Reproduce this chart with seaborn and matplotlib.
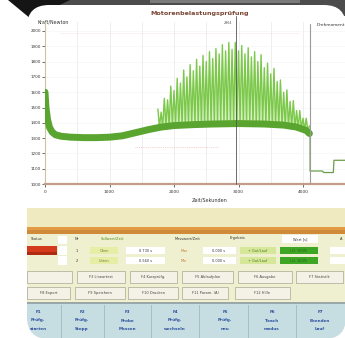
import numpy as np
import pandas as pd
import matplotlib
matplotlib.use("Agg")
import matplotlib.pyplot as plt
from matplotlib.patches import Rectangle, FancyBboxPatch, Polygon
import seaborn as sns

# ---------------- data ----------------
title = "Motorenbelastungsprüfung"
y_label = "Kraft/Newton"
x_label = "Zeit/Sekunden"
right_label = "Drehmoment"

x_ticks = [0, 1000, 2000, 3000, 4000]
y_ticks = [1000, 1100, 1200, 1300, 1400, 1500, 1600, 1700, 1800, 1900, 2000]

# smooth body of the force signal
body_t = [0, 15, 40, 70, 110, 160, 250, 400, 600, 800, 1000, 1200, 1400, 1600,
          1800, 2000, 2300, 2600, 3000, 3400, 3700, 3900, 4050, 4100]
body_v = [1600, 1500, 1420, 1370, 1340, 1322, 1312, 1306, 1303, 1303, 1306, 1315,
          1335, 1355, 1372, 1382, 1388, 1392, 1395, 1392, 1385, 1372, 1350, 1330]

# oscillating part (peak / trough samples)
zz_t = [1750, 1775, 1800, 1825, 1850, 1875, 1900, 1925, 1950, 1975,
        2000, 2025, 2050, 2075, 2100, 2125, 2150, 2175, 2200, 2225,
        2250, 2275, 2300, 2325, 2350, 2375, 2400, 2425, 2450, 2475,
        2500, 2525, 2550, 2575, 2600, 2625, 2650, 2675, 2700, 2725,
        2750, 2775, 2800, 2825, 2850, 2875, 2900, 2925, 2950, 2975,
        3000, 3025, 3050, 3075, 3100, 3125, 3150, 3175, 3200, 3225,
        3250, 3275, 3300, 3325, 3350, 3375, 3400, 3425, 3450, 3475,
        3500, 3525, 3550, 3575, 3600, 3625, 3650, 3675, 3700, 3725,
        3750, 3775, 3800, 3825, 3850, 3875, 3900, 3925, 3950, 3975,
        4000, 4025, 4050, 4075, 4100]
zz_v = [1490, 1375, 1470, 1375, 1560, 1380, 1550, 1380, 1640, 1385,
        1610, 1385, 1690, 1385, 1660, 1390, 1745, 1390, 1700, 1390,
        1780, 1390, 1740, 1395, 1815, 1395, 1770, 1395, 1840, 1395,
        1800, 1400, 1865, 1400, 1820, 1400, 1885, 1400, 1850, 1400,
        1910, 1400, 1870, 1405, 1925, 1400, 1880, 1405, 1925, 1400,
        1870, 1405, 1905, 1400, 1850, 1400, 1890, 1400, 1830, 1400,
        1865, 1395, 1800, 1395, 1845, 1395, 1760, 1390, 1790, 1390,
        1720, 1385, 1755, 1385, 1670, 1380, 1680, 1380, 1600, 1375,
        1615, 1375, 1540, 1370, 1545, 1365, 1480, 1365, 1480, 1360,
        1430, 1355, 1430, 1345, 1380]
spike_base = 1380

# step signal in the right-hand panel
step_t = [4110, 4110, 4300, 4320, 4470, 4480, 4700]
step_v = [1330, 1085, 1085, 1075, 1075, 1155, 1155]

cursor_t = 2960
divider_t = 4110

# ---------------- figure ----------------
sns.set_style("white")
plt.rcParams["font.family"] = ["DejaVu Sans"]

fig = plt.figure(figsize=(3.45, 3.38), dpi=100)
fig.patch.set_facecolor("white")

bg = fig.add_axes([0, 0, 1, 1], zorder=0)
bg.set_xlim(0, 345)
bg.set_ylim(338, 0)
bg.axis("off")

# dark frame at the top
bg.add_patch(Rectangle((40, 0), 305, 16, fc="#4c4c4c", ec="none"))
bg.add_patch(Rectangle((150, 0), 150, 3, fc="#7a7a7a", ec="none"))
bg.add_patch(Polygon([(8, 0), (70, 0), (31, 19)], closed=True, fc="#151515", ec="none"))

panel = FancyBboxPatch((27, 5), 319, 334, boxstyle="round,pad=0,rounding_size=22",
                       fc="white", ec="none")
bg.add_patch(panel)


def rect(x0, y0, x1, y1, fc, ec="none", lw=0.4):
    r = Rectangle((x0, y0), x1 - x0, y1 - y0, fc=fc, ec=ec, lw=lw)
    bg.add_patch(r)
    r.set_clip_path(panel)
    return r


def txt(x, y, s, size=2.8, color="#333333", ha="center", weight="normal"):
    t = bg.text(x, y, s, fontsize=size, color=color, ha=ha, va="center",
                fontweight=weight)
    t.set_clip_path(panel)
    return t


# lower control panel
rect(27, 208, 346, 227, "#efeac0")
rect(27, 227, 346, 230, "#e39a45")
rect(27, 230, 346, 234, "#cf8a3a")
rect(27, 234, 346, 303, "#eff0cf")

# row 1 labels
txt(31, 238.5, "Status", ha="left", size=2.6)
rect(58, 236, 67, 244, "#ffffff")
txt(77, 238.5, "Nr", size=2.6)
txt(112, 238.5, "Sollwert/Zeit", color="#5a8a20", size=2.6)
txt(188, 238.5, "Messwert/Zeit", size=2.6)
txt(237, 238.5, "Ergebnis", size=2.6)
rect(282, 235, 318, 243, "#ffffff")
txt(300, 239, "Wert [s]", size=2.6)
txt(341, 239, "A", size=2.6)

# row 2 / row 3
rect(27, 246, 57, 255, "#d43a1c")
rect(27, 252, 57, 255, "#b02a12")
for yy, nr in [(246, "1"), (256, "2")]:
    rect(58, yy, 67, yy + 9, "#ffffff")
    txt(77, yy + 4.5, nr, size=2.6)
    rect(90, yy + 1, 118, yy + 8, "#e6eea6")
    txt(104, yy + 4.5, "Oben" if nr == "1" else "Unten", size=2.5, color="#777733")
    rect(126, yy + 1, 165, yy + 8, "#ffffff")
    txt(146, yy + 4.5, "0.730 s" if nr == "1" else "0.560 s", size=2.5)
    txt(184, yy + 4.5, "Max" if nr == "1" else "Min", size=2.5, color="#c07a30")
    rect(203, yy + 1, 236, yy + 8, "#ffffff")
    txt(219, yy + 4.5, "0.000 s", size=2.5)
    rect(240, yy + 1, 276, yy + 8, "#d6e79a")
    txt(258, yy + 4.5, "+ Gut/Lauf", size=2.5, color="#4a7a20")
    rect(280, yy + 1, 318, yy + 8, "#3ea624")
    txt(299, yy + 4.5, "i.O. 100%", size=2.5, color="#1d5e10")
    rect(330, yy + 1, 346, yy + 8, "#ffffff")

# buttons
btn1 = [(27, 72, ""), (77, 125, "F3 Lineartest"), (130, 177, "F4 Kurzprüfg."),
        (182, 233, "F5 Ablaufplan"), (238, 292, "F6 Ausgabe"), (296, 343, "F7 Statistik")]
btn2 = [(27, 70, "F8 Export"), (75, 125, "F9 Speichern"), (128, 178, "F10 Drucken"),
        (182, 228, "F11 Param. (A)"), (235, 290, "F12 Hilfe")]
for x0, x1, s in btn1:
    rect(x0, 271, x1, 283, "#f4f2e6", ec="#a9a796", lw=0.5)
    txt((x0 + x1) / 2, 277, s, size=2.6, color="#444444")
for x0, x1, s in btn2:
    rect(x0, 287, x1, 299, "#f4f2e6", ec="#a9a796", lw=0.5)
    txt((x0 + x1) / 2, 293, s, size=2.6, color="#444444")

# blue function-key bar
rect(27, 302, 346, 304, "#9aa8aa")
rect(27, 304, 346, 340, "#c6dde2")
for xs in [61, 104, 151, 199, 248, 296]:
    rect(xs, 305, xs + 0.7, 340, "#a6bfc6")
fkeys = [(38, "F1\nPrüfg.\nstarten"), (82, "F2\nPrüfg.\nStopp"), (127, "F3\nProbe\nMessen"),
         (175, "F4\nPrüfg.\nwechseln"), (225, "F5\nPrüfg.\nneu"), (272, "F6\nTeach\nmodus"),
         (320, "F7\nBeenden\nLauf")]
for xc, s in fkeys:
    for i, line in enumerate(s.split("\n")):
        txt(xc, 312 + i * 8.5, line, size=3.0, color="#2f4f9e", weight="bold")

# ---------------- chart ----------------
ax = fig.add_axes([45 / 345, 1 - 184 / 338, 300 / 345, 162 / 338], zorder=2)
ax.set_facecolor("none")
ax.set_xlim(0, 300 / 64.5 * 1000)
ax.set_ylim(1000, 1000 + 162 / 153 * 1000)

ax.fill_between(zz_t, zz_v, spike_base, color="#b6e494", alpha=0.55, lw=0, zorder=2)
sns.lineplot(x=zz_t, y=zz_v, ax=ax, color="#7cc84a", lw=1.0,
             estimator=None, sort=False, zorder=3)
sns.lineplot(x=body_t, y=body_v, ax=ax, color="#5aa52f", lw=5.0,
             estimator=None, sort=False, zorder=4)
sns.lineplot(x=step_t, y=step_v, ax=ax, color="#6a9e4c", lw=0.9,
             estimator=None, sort=False, zorder=4)

ax.set_xticks(x_ticks)
ax.set_xticks([500, 1500, 2500, 3500], minor=True)
ax.set_yticks(y_ticks)
ax.set_xticklabels([str(v) for v in x_ticks])
ax.set_yticklabels([str(v) for v in y_ticks])
ax.tick_params(axis="y", labelsize=3.0, length=2, width=0.5, pad=1,
               colors="#333333", left=True)
ax.tick_params(axis="x", labelsize=3.2, length=2, width=0.5, pad=2.5,
               colors="#333333", bottom=True)
ax.tick_params(axis="x", which="minor", length=0)
ax.grid(True, axis="x", which="both", color="#e8e8e8", lw=0.5)
ax.grid(True, axis="y", color="#f4f4f4", lw=0.4)
ax.set_axisbelow(True)
for side in ["top", "right"]:
    ax.spines[side].set_visible(False)
ax.spines["left"].set_color("#c9c79a")
ax.spines["left"].set_linewidth(0.8)
ax.spines["bottom"].set_color("#c49c8c")
ax.spines["bottom"].set_linewidth(1.6)
ax.set_xlabel("")
ax.set_ylabel("")

ax.axhline(1240, xmin=0.3, xmax=0.58, color="#f0a8a0", lw=0.5, ls=":", zorder=2)
ax.axhline(1985, xmin=0.05, xmax=0.85, color="#f3c4c0", lw=0.4, ls=":", zorder=2)
ax.axvline(cursor_t, ymin=0, ymax=1.04, color="#555555", lw=0.6, clip_on=False, zorder=5)
ax.axvline(divider_t, ymin=0, ymax=0.99, color="#9a9a9a", lw=0.8, zorder=5)

bg.text(200, 13, title, fontsize=4.6, fontweight="bold", color="#7a4634",
        ha="center", va="center")
bg.text(37, 22, y_label, fontsize=3.4, color="#333333", ha="left", va="center")
bg.text(210, 200, x_label, fontsize=3.5, color="#333333", ha="center", va="center")
bg.text(317, 24.5, right_label, fontsize=3.2, color="#333333", ha="left", va="center")
bg.text(232, 22.5, "2964", fontsize=2.4, color="#555555", ha="right", va="center")

fig.savefig("out.png", dpi=100)
